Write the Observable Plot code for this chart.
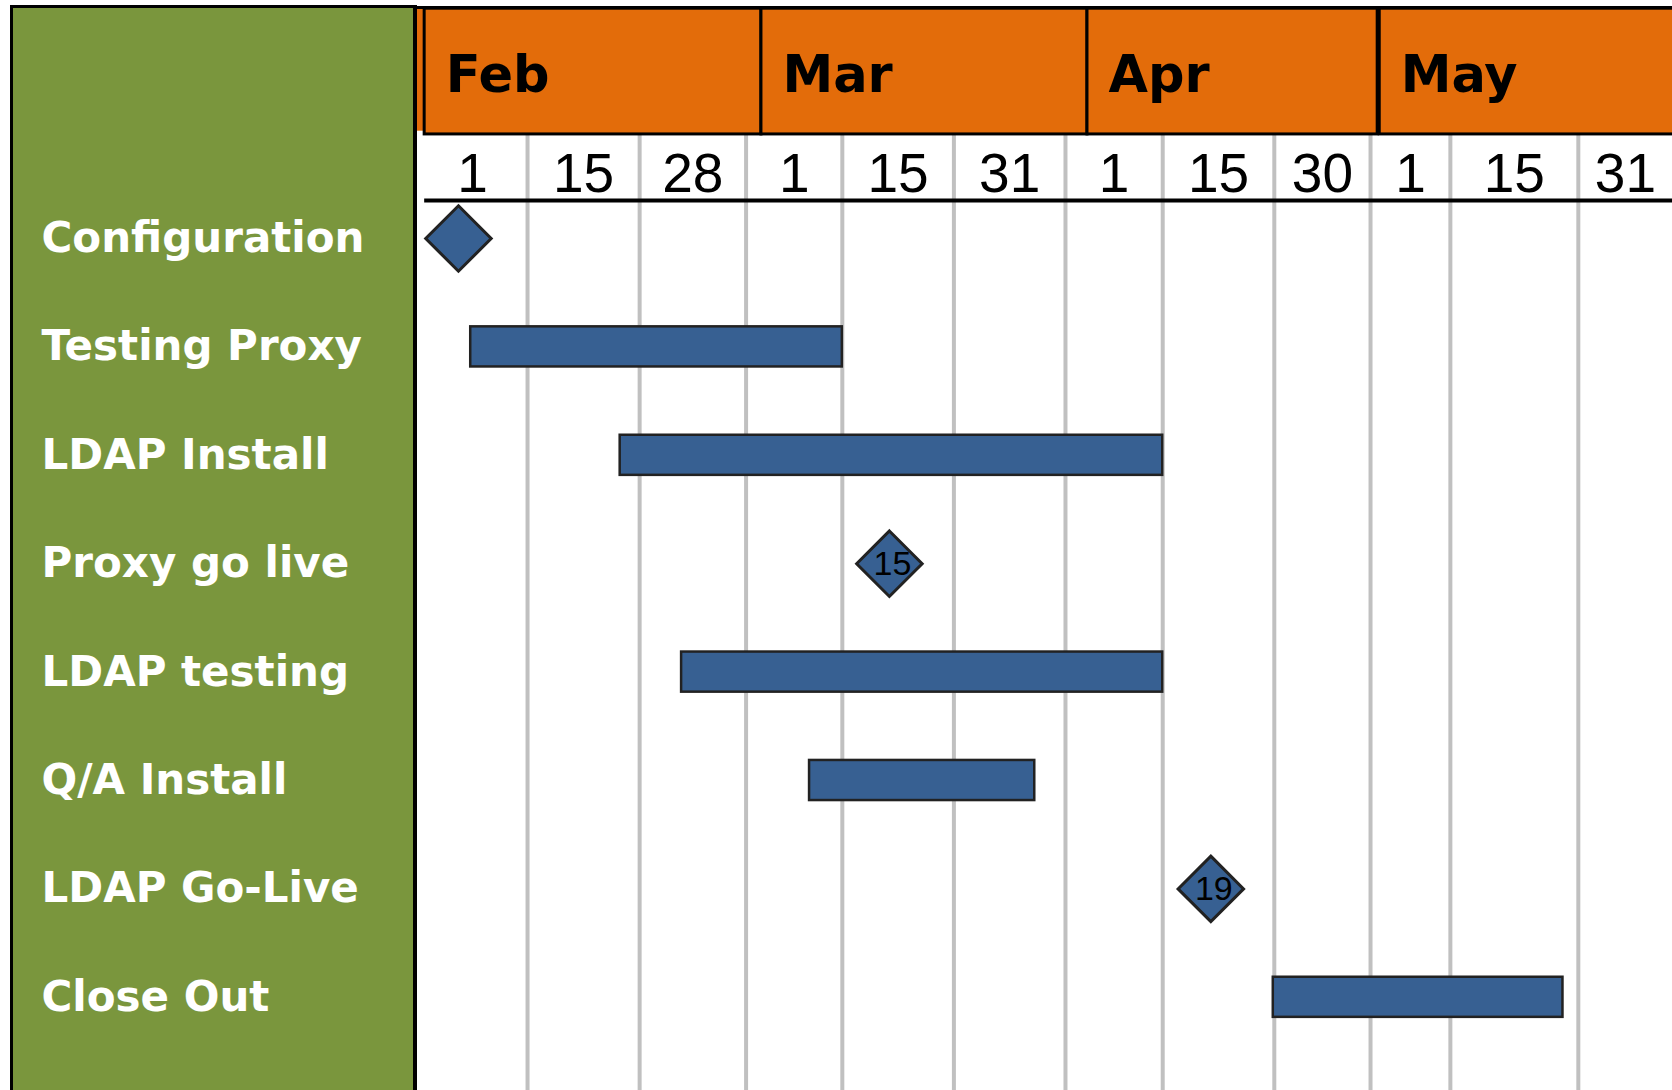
<!DOCTYPE html>
<html>
<head>
<meta charset="utf-8">
<script src="https://cdn.jsdelivr.net/npm/d3@7"></script>
<script src="https://cdn.jsdelivr.net/npm/@observablehq/plot@0.6"></script>
<style>
  html, body { margin: 0; padding: 0; background: #fff; overflow: hidden; }
  #wrap { position: relative; width: 1672px; height: 1090px; overflow: hidden; background: #fff; }
  #panel { position: absolute; left: 10px; top: 5px; width: 400px; height: 1100px;
           background: #7a963d; border-left: 3px solid #000; border-top: 3px solid #000; border-right: 4px solid #000; }
  #chart { position: absolute; left: 0; top: 0; }
</style>
</head>
<body>
<div id="wrap"><div id="panel"></div><div id="chart"></div></div>
<script>
// ---- Data (x unit = day number, Feb 1 = 1, Mar 1 = 29, Apr 1 = 60, May 1 = 90) ----
const tasks = ["Configuration", "Testing Proxy", "LDAP Install", "Proxy go live",
               "LDAP testing", "Q/A Install", "LDAP Go-Live", "Close Out"];
const taskType = ["milestone", "bar", "bar", "milestone", "bar", "bar", "milestone", "bar"];
const taskStart = [1, 2.2, 16.8, 43.1, 22.8, 35.3, 74.5, 80.6];
const taskEnd   = [null, 38.5, 69.8, null, 69.8, 57.3, null, 108.9];
const milestoneLabel = ["", "", "", "15", "", "", "19", ""];

const monthNames = ["Feb", "Mar", "Apr", "May"];
const monthBoxStart = [-2.3, 30.6, 62.45, 91.0];
const monthBoxEnd   = [30.6, 62.45, 90.8, 122];

const dayLabels = ["1", "15", "28", "1", "15", "31", "1", "15", "30", "1", "15", "31"];
const gridDays = [7.75, 18.7, 29.1, 38.5, 49.4, 60.3, 69.8, 80.7, 90.1, 97.9, 110.4];

const xDomain = [-3, 119.6];

// ---- Layout constants (row units: task rows are 0..7) ----
const HEADER_TOP = -2.13, HEADER_BOTTOM = -0.96, MONTH_LABEL_Y = -1.50;
const DAY_LABEL_Y = -0.59, DAY_LINE_Y = -0.35, GRID_BOTTOM = 8.2, BAR_HALF = 0.185;
const MARGIN_LEFT = 417, LABEL_LEFT = 41;

// ---- Derived tables ----
const rows = tasks.map((name, i) => ({name, row: i, type: taskType[i], start: taskStart[i], end: taskEnd[i], label: milestoneLabel[i]}));
const bars = rows.filter(d => d.type === "bar");
const milestones = rows.filter(d => d.type === "milestone");
const months = monthNames.map((name, i) => ({name, start: monthBoxStart[i], end: monthBoxEnd[i]}));
const bounds = [xDomain[0], ...gridDays, xDomain[1]];
const days = dayLabels.map((t, i) => ({text: t, x: (bounds[i] + bounds[i + 1]) / 2}));

const chart = Plot.plot({
  width: 1672,
  height: 1090,
  marginLeft: MARGIN_LEFT,
  marginRight: 0,
  marginTop: 183.8,
  marginBottom: 39,
  style: {background: "transparent", overflow: "hidden"},
  x: {type: "linear", domain: xDomain, axis: null},
  y: {type: "linear", domain: [-0.5, 7.5], reverse: true, axis: null},
  marks: [
    Plot.rect([0], {x1: xDomain[0], x2: xDomain[1], y1: HEADER_TOP, y2: HEADER_BOTTOM - 0.03, fill: "#e36c0a"}),
    Plot.ruleX(gridDays, {y1: HEADER_BOTTOM, y2: GRID_BOTTOM, stroke: "#c0c0c0", strokeWidth: 4}),
    Plot.rect(months, {x1: "start", x2: "end", y1: HEADER_TOP + 0.01, y2: HEADER_BOTTOM, fill: "#e36c0a", stroke: "#000", strokeWidth: 3}),
    Plot.ruleY([HEADER_TOP], {stroke: "#000", strokeWidth: 3}),
    Plot.ruleY([DAY_LINE_Y], {x1: monthBoxStart[0], x2: xDomain[1], stroke: "#000", strokeWidth: 4}),
    Plot.text(months, {x: "start", y: MONTH_LABEL_Y, text: "name", textAnchor: "start", dx: 21,
      fontSize: 51, fontWeight: "bold", fontFamily: "DejaVu Sans, Verdana, sans-serif", fill: "#000"}),
    Plot.text(days, {x: "x", y: DAY_LABEL_Y, text: "text", textAnchor: "middle",
      fontSize: 55, fontFamily: "Liberation Sans, Arial, sans-serif", fill: "#000"}),
    Plot.rect(bars, {x1: "start", x2: "end", y1: d => d.row - BAR_HALF, y2: d => d.row + BAR_HALF,
      fill: "#376092", stroke: "#222", strokeWidth: 2.5}),
    Plot.dot(milestones, {x: "start", y: "row", symbol: "diamond2", r: 29.5,
      fill: "#376092", stroke: "#222", strokeWidth: 3}),
    Plot.text(milestones.filter(d => d.label), {x: "start", y: "row", text: "label", dx: 3,
      fontSize: 34, fontFamily: "Liberation Sans Narrow, Liberation Sans, Arial, sans-serif", fill: "#000"}),
    Plot.text(rows, {y: "row", text: "name", frameAnchor: "left", textAnchor: "start", dx: LABEL_LEFT - MARGIN_LEFT,
      fontSize: 42, fontWeight: "bold", fontFamily: "DejaVu Sans, Verdana, sans-serif", fill: "#fff"})
  ]
});
document.getElementById("chart").appendChild(chart);
</script>
</body>
</html>
